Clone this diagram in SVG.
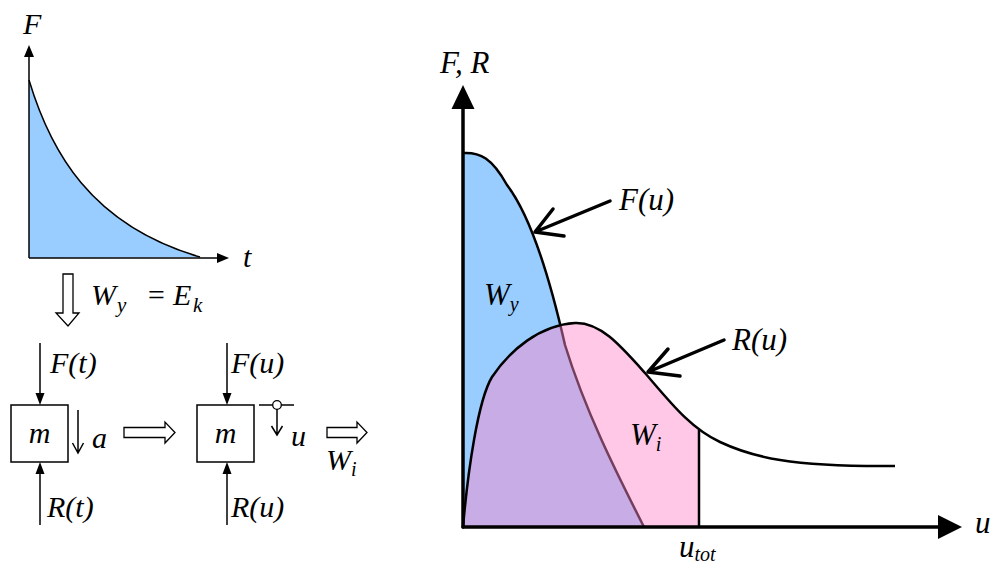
<svg xmlns="http://www.w3.org/2000/svg" width="991" height="565" viewBox="0 0 991 565">
<style>
.tx{font-family:'Liberation Serif','Times New Roman','DejaVu Serif',serif;font-style:italic;font-size:30px;fill:#000}
.big{font-size:31px}
.sub{font-size:20px}
.ln{stroke:#000;stroke-width:1.5;fill:none}
.thick{stroke:#000;stroke-width:3.5;fill:none;stroke-linecap:round;stroke-linejoin:round}
.cur{stroke:#000;stroke-width:2.5;fill:none}
.head{fill:#000;stroke:none}
.hollow{fill:#fff;stroke:#000;stroke-width:1.3;stroke-linejoin:miter}
.box{fill:#fff;stroke:#000;stroke-width:1.5}
</style>
<defs>
<clipPath id="utotClip"><rect x="460" y="250" width="239" height="280"/></clipPath>
</defs>
<rect width="991" height="565" fill="#fff"/>

<g id="top-graph">
<path d="M29,80 C50,150 90,225 200,257 L29,258 Z" fill="#99ccff"/>
<path d="M29,80 C50,150 90,225 200,257" class="ln" stroke-width="1.8"/>
<line x1="29" y1="258" x2="29" y2="54" class="ln" stroke-width="2"/>
<polygon points="29,45 24,57 34,57" class="head"/>
<line x1="29" y1="258" x2="218" y2="258" class="ln" stroke-width="2"/>
<polygon points="229,258 217,253 217,263" class="head"/>
<text x="23" y="34" class="tx">F</text>
<text x="243" y="267" class="tx">t</text>
</g>

<g id="energy-transfer">
<polygon points="63,274 73,274 73,313 79,313 68,326 56,313 63,313" class="hollow"/>
<text y="305" class="tx" font-size="32"><tspan x="91">W</tspan><tspan x="117" dy="7" font-size="21">y</tspan><tspan x="146" dy="-7">=</tspan><tspan x="173">E</tspan><tspan x="193" dy="7" font-size="21">k</tspan></text>
</g>

<g id="mass-left">
<rect x="11" y="405" width="57" height="57" class="box"/>
<text x="39.5" y="443" text-anchor="middle" class="tx">m</text>
<text x="50" y="373" class="tx">F(t)</text>
<text x="47" y="517" class="tx">R(t)</text>
<text x="92" y="448" class="tx">a</text>
</g>

<g id="mass-right">
<rect x="197" y="405" width="57" height="57" class="box"/>
<text x="225.5" y="443" text-anchor="middle" class="tx">m</text>
<text x="231" y="373" class="tx">F(u)</text>
<text x="231" y="517" class="tx">R(u)</text>
<line x1="259" y1="405" x2="294" y2="405" class="ln" stroke-width="1.3"/>
<circle cx="277" cy="405" r="4.3" fill="#fff" stroke="#000" stroke-width="1.3"/>
<text x="291" y="446" class="tx">u</text>
</g>

<g id="work-label">
<text x="326" y="470" class="tx">W<tspan class="sub" dy="6">i</tspan></text>
</g>

<g id="right-graph">
<path d="M463,153 C480,152 492,158 507,185 C530,215 548,270 565,345 C585,410 615,470 644,527 L463,527 Z" fill="#99ccff"/>
<path d="M463,153 C480,152 492,158 507,185 C530,215 548,270 565,345 C585,410 615,470 644,527" class="cur"/>
<path clip-path="url(#utotClip)" d="M463,527 C468,470 478,400 492,377 C510,350 540,325 575,323 C600,322 620,345 645,373 C670,402 690,428 720,442 C752,457 790,467 895,466 L895,527 Z" fill="#ff87c8" fill-opacity="0.46"/>
<path d="M463,527 C468,470 478,400 492,377 C510,350 540,325 575,323 C600,322 620,345 645,373 C670,402 690,428 720,442 C752,457 790,467 895,466" class="cur"/>
<line x1="699" y1="430" x2="699" y2="527" class="cur"/>
<text x="484" y="305" class="tx big">W<tspan class="sub" dy="6">y</tspan></text>
<text x="630" y="445" class="tx big">W<tspan class="sub" dy="6">i</tspan></text>
<text x="440" y="73" class="tx big">F, R</text>
<text x="975" y="533" class="tx big">u</text>
<text x="679" y="557" class="tx big">u<tspan class="sub" dy="4">tot</tspan></text>
<text x="619" y="210" class="tx big">F(u)</text>
<text x="732" y="350" class="tx big">R(u)</text>
</g>

<g id="connectors">
<line x1="40" y1="343" x2="40" y2="395" class="ln" stroke-width="1.3"/>
<polygon points="40,405 35.5,393 44.5,393" class="head"/>
<line x1="40" y1="525" x2="40" y2="472" class="ln" stroke-width="1.3"/>
<polygon points="40,462 35.5,474 44.5,474" class="head"/>
<path d="M78,410 V453 M72.5,443 L78,453 L83.5,443" class="ln" stroke-width="1.3"/>
<polygon points="124,427.5 165,427.5 165,422 175,432.5 165,443 165,437.5 124,437.5" class="hollow"/>
<line x1="227" y1="343" x2="227" y2="395" class="ln" stroke-width="1.3"/>
<polygon points="227,405 222.5,393 231.5,393" class="head"/>
<line x1="227" y1="525" x2="227" y2="472" class="ln" stroke-width="1.3"/>
<polygon points="227,462 222.5,474 231.5,474" class="head"/>
<path d="M277,409.3 V435 M271.5,426 L277,435 L282.5,426" class="ln" stroke-width="1.3"/>
<polygon points="327,427.5 357,427.5 357,422 367,432.5 357,443 357,437.5 327,437.5" class="hollow"/>
<line x1="463" y1="527" x2="463" y2="105" class="thick" stroke-linecap="butt"/>
<polygon points="463,85 451.5,109 474.5,109" class="head"/>
<line x1="463" y1="527" x2="940" y2="527" class="thick" stroke-linecap="butt"/>
<polygon points="962,527 938,515 938,539" class="head"/>
<path d="M610,201 L535,232 M553,209 L535,232 L564,236" class="thick"/>
<path d="M724,340 L648,372 M668,349 L648,372 L680,376" class="thick"/>
</g>
</svg>
